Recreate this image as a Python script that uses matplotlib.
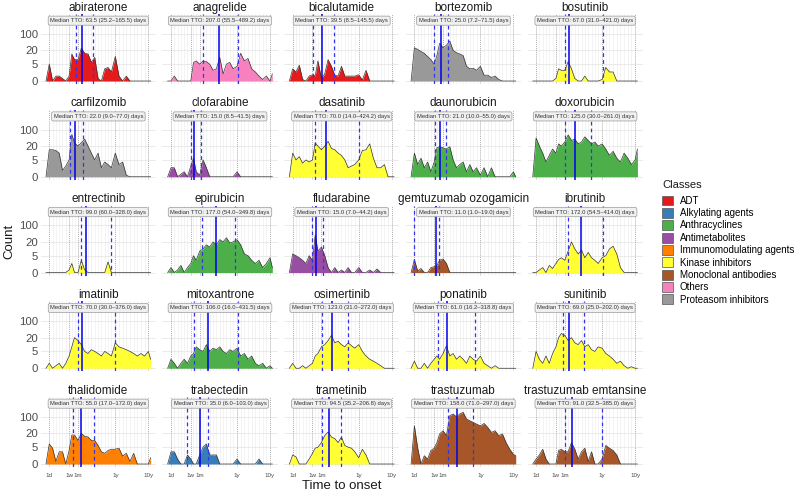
import numpy as np
import matplotlib
matplotlib.use('Agg')
from matplotlib import pyplot as plt
from matplotlib.patches import Patch

plt.rcParams['font.family'] = ['Liberation Sans', 'DejaVu Sans']

# time-to-onset bins (days): daily, weekly, monthly, yearly
tto_days = [0, 1, 2, 3, 4, 5, 6, 7, 14, 21, 30, 60, 90, 120, 150, 180, 210, 240,
            270, 300, 330, 365, 730, 1095, 1460, 1825, 2190, 2555, 2920, 3285, 3650, 3880]

tick_days = [1, 7, 30, 365, 3650]
tick_labels = ['1d', '1w', '1m', '1y', '10y']
minor_days = [2, 3, 4, 5, 6, 14, 21, 60, 90, 120, 150, 180, 210, 240, 270, 300, 330,
              730, 1095, 1460, 1825, 2190, 2555, 2920, 3285]

drugs = ['abiraterone', 'anagrelide', 'bicalutamide', 'bortezomib', 'bosutinib',
         'carfilzomib', 'clofarabine', 'dasatinib', 'daunorubicin', 'doxorubicin',
         'entrectinib', 'epirubicin', 'fludarabine', 'gemtuzumab ozogamicin', 'ibrutinib',
         'imatinib', 'mitoxantrone', 'osimertinib', 'ponatinib', 'sunitinib',
         'thalidomide', 'trabectedin', 'trametinib', 'trastuzumab', 'trastuzumab emtansine']

drug_class = ['ADT', 'Others', 'ADT', 'Proteasom inhibitors', 'Kinase inhibitors',
              'Proteasom inhibitors', 'Antimetabolites', 'Kinase inhibitors', 'Anthracyclines', 'Anthracyclines',
              'Kinase inhibitors', 'Anthracyclines', 'Antimetabolites', 'Monoclonal antibodies', 'Kinase inhibitors',
              'Kinase inhibitors', 'Anthracyclines', 'Kinase inhibitors', 'Kinase inhibitors', 'Kinase inhibitors',
              'Immunomodulating agents', 'Alkylating agents', 'Kinase inhibitors', 'Monoclonal antibodies',
              'Monoclonal antibodies']

median_tto = [63.5, 207.0, 39.5, 25.0, 67.0, 22.0, 15.0, 70.0, 21.0, 125.0,
              99.0, 177.0, 15.0, 11.0, 172.0, 70.0, 106.0, 123.0, 61.0, 69.0,
              55.0, 35.0, 94.5, 158.0, 91.0]
q1_tto = [25.2, 55.5, 8.5, 7.2, 31.0, 9.0, 8.5, 14.0, 10.0, 30.0,
          60.0, 54.0, 7.0, 1.0, 54.5, 30.0, 16.0, 31.0, 16.2, 25.0,
          17.0, 6.0, 35.2, 71.0, 32.5]
q3_tto = [165.5, 489.2, 145.5, 71.5, 421.0, 77.0, 41.5, 424.2, 55.0, 261.0,
          328.0, 349.8, 44.2, 19.0, 414.0, 376.0, 431.5, 272.0, 318.8, 202.0,
          172.0, 103.0, 206.8, 297.0, 385.0]

class_names = ['ADT', 'Alkylating agents', 'Anthracyclines', 'Antimetabolites',
               'Immunomodulating agents', 'Kinase inhibitors', 'Monoclonal antibodies',
               'Others', 'Proteasom inhibitors']
class_colors = ['#E41A1C', '#377EB8', '#4DAF4A', '#984EA3', '#FF7F00',
                '#FFFF33', '#A65628', '#F781BF', '#999999']

# counts per bin, one list per drug
n_abiraterone = [0, 5, 0, 1, 1, 0.5, 0, 1, 14, 8, 8, 25, 15, 14, 6, 10, 0.5, 0, 3, 3.5, 2,
                 11, 1, 0, 1, 0, 0, 0, 0, 0, 0, 0]
n_anagrelide = [0, 0, 1, 0, 0, 0, 0, 0, 6, 7, 5, 7, 6.5, 5, 2.5, 3, 10, 1.5, 5, 6, 3,
                4, 15, 7, 9, 3, 2, 1, 0.3, 1, 0, 1.5]
n_bicalutamide = [0, 3, 2, 4.5, 0.3, 0, 1, 1.3, 1, 7, 0.5, 1.5, 8, 4, 1.2, 1, 4, 1, 1, 1, 1,
                  1.3, 0.2, 2.5, 0, 0, 0, 0, 0, 0, 0, 0]
n_bortezomib = [0, 26, 22, 18, 15, 11, 8, 5, 12, 40, 26, 33, 50, 20, 16, 14, 12, 4, 3, 3.2, 2.5,
                4, 1.2, 1.2, 0.7, 1, 0.3, 0, 0, 0, 0, 0]
n_bosutinib = [0, 0, 0, 0, 0, 0, 0, 0.5, 3, 2.5, 2.5, 6.5, 3, 0.5, 0, 0, 1, 0, 0, 0, 0,
               0.3, 3.5, 2, 2, 0, 0, 0, 0, 0, 0, 0]
n_carfilzomib = [0, 14, 14, 13, 10, 1.3, 2.5, 5, 63, 28, 20, 28, 40, 20, 10, 5, 10, 2, 4, 3, 2,
                 10, 3, 4, 0.3, 0, 0, 0, 0, 0, 0, 0]
n_clofarabine = [0, 2, 2, 0, 0.5, 1, 0, 2.5, 6, 1, 0.3, 5, 2, 0, 0, 0, 0, 0, 0, 0, 0,
                 1, 0, 0, 0, 0, 0, 0, 0, 0, 0, 0]
n_dasatinib = [0, 10, 5, 7, 3.5, 5, 4, 5, 28, 20, 14, 20, 32, 16, 14, 10, 8, 5, 2, 2.5, 3,
               5, 13, 14, 25, 6, 2, 2, 3, 0, 0, 0]
n_daunorubicin = [0, 10, 3, 6, 2, 4, 1, 4, 17, 19, 17, 15, 19, 5, 2, 3, 4, 1, 3, 1, 2,
                  0.3, 2, 0, 2, 0, 0, 0, 0, 0, 1, 0]
n_doxorubicin = [0, 45, 20, 10, 4, 8, 15, 10, 25, 20, 30, 60, 35, 40, 25, 30, 50, 35, 25, 30, 20,
                 25, 15, 8, 12, 6, 4, 10, 6, 3, 5, 15]
n_entrectinib = [0, 0, 0, 0, 0, 0, 0, 0.5, 2, 0, 0, 3, 0.5, 0, 0, 0, 0, 0, 0, 2.5, 0,
                 0, 0, 0, 0, 0, 0, 0, 0, 0, 0, 0]
n_epirubicin = [0, 1, 0, 0.5, 1.5, 0, 1, 2, 5, 3, 8, 10, 15, 12, 20, 15, 25, 20, 30, 18, 20,
                25, 15, 6, 5, 3, 2, 3, 1, 2, 4, 1]
n_fludarabine = [0, 6, 5, 4, 3, 2, 5, 3, 40, 8, 12, 5, 1, 0, 1, 0, 0.5, 0, 1, 0, 0,
                 1, 0, 0, 0.5, 0, 0.7, 0, 0, 0, 0, 0]
n_gemtuzumab = [0, 3.2, 0.3, 0.8, 0, 0, 1, 1.2, 1.5, 3, 3.5, 2, 0, 0, 0, 0, 0, 0, 0, 0, 0,
                0, 0, 0, 0, 0, 0, 0, 0, 0, 0, 0]
n_ibrutinib = [0, 0, 0.5, 1, 0, 1.5, 0.8, 2, 3.3, 4, 3, 8, 20, 10, 6, 9, 4, 7, 4, 3, 2,
               4, 5, 10, 13, 6, 1, 0, 0, 0, 0, 0]
n_imatinib = [0, 1, 0, 0.5, 1, 0, 1, 3, 8, 20, 15, 10, 5, 4, 6, 5, 4, 3, 5, 4, 3,
              12, 8, 7, 6, 5, 4, 3, 4, 3, 5, 2]
n_mitoxantrone = [0, 2, 1, 0, 1, 2, 1, 3, 4, 8, 6, 5, 10, 5, 7, 6, 8, 5, 4, 6, 5,
                  7, 3, 4, 2, 3, 1, 0.5, 1, 0, 0.5, 0]
n_osimertinib = [0, 1, 0, 0, 0.5, 0, 0.5, 1, 3, 4, 8, 10, 15, 25, 12, 14, 10, 8, 12, 9, 7,
                 10, 5, 3, 2, 1.5, 1, 0.5, 0, 0, 0, 0]
n_ponatinib = [0, 1.5, 0, 0, 1, 0, 1, 2, 3, 2, 4, 9, 3, 4, 2, 3, 2, 1, 3, 2, 1.5,
               3, 1, 0.5, 0, 0.5, 0, 0, 0, 0, 0, 0]
n_sunitinib = [0, 5, 2, 1, 3, 1, 4, 8, 20, 30, 25, 15, 20, 12, 10, 15, 8, 10, 6, 5, 8,
               7, 4, 3, 2, 1, 1.5, 0.5, 0, 0.3, 0, 0]
n_thalidomide = [0, 7, 4.5, 0.5, 3, 3, 0, 3.5, 17, 17, 10, 20, 15, 14, 10, 10, 6, 3, 2.5, 3.5, 4,
                 4, 4.5, 1.7, 2.5, 0.5, 2.5, 0, 0, 0, 0, 1.3]
n_trabectedin = [0, 3, 3, 1, 0, 0, 2, 1, 0, 0, 2, 5, 7, 2, 2, 2, 0, 0, 0, 0, 0,
                 1, 0, 0, 0, 0, 0, 1, 0, 0, 0, 0]
n_trametinib = [0, 2, 1.5, 0, 0, 0, 1, 2.5, 4.5, 5, 8, 16, 23, 14, 12, 8, 14, 6, 5, 4.5, 3,
                1.3, 4, 2, 0, 0, 0, 0, 0, 0, 0, 0]
n_trastuzumab = [0, 42, 4.5, 0, 1.8, 1, 3.5, 4.5, 8, 19, 26, 16, 114, 134, 102, 134, 158, 82, 69, 59, 50,
                 42, 53, 36, 22, 26, 16, 19, 8, 4, 2.2, 1.8]
n_trastuzumab_emtansine = [0, 1, 2, 4, 1, 0, 0, 0, 3.5, 4, 3, 3, 8, 4, 1, 3, 4.5, 0.5, 3, 0, 0,
                           1, 6, 4.5, 3.5, 2, 0, 0, 0, 0, 0, 0]

counts = [n_abiraterone, n_anagrelide, n_bicalutamide, n_bortezomib, n_bosutinib,
          n_carfilzomib, n_clofarabine, n_dasatinib, n_daunorubicin, n_doxorubicin,
          n_entrectinib, n_epirubicin, n_fludarabine, n_gemtuzumab, n_ibrutinib,
          n_imatinib, n_mitoxantrone, n_osimertinib, n_ponatinib, n_sunitinib,
          n_thalidomide, n_trabectedin, n_trametinib, n_trastuzumab, n_trastuzumab_emtansine]

# x axis: piecewise linear in days (daily / weekly / monthly / yearly bins)
KD = np.array([1, 7, 30, 365, 3650], float)
KU = np.array([0, 6, 8.7, 20, 30], float)


def fwd_x(d):
    d = np.asarray(d, float)
    u = np.interp(d, KD, KU)
    u = np.where(d < 1, d - 1, u)
    u = np.where(d > 3650, 30 + (d - 3650) * 10 / 3285, u)
    return u


def inv_x(u):
    u = np.asarray(u, float)
    d = np.interp(u, KU, KD)
    d = np.where(u < 0, u + 1, d)
    d = np.where(u > 30, 3650 + (u - 30) * 3285 / 10, d)
    return d


# y axis: pseudo-log
def fwd_y(y):
    return np.arcsinh(np.asarray(y, float) / 2) / np.log(10)


def inv_y(u):
    return 2 * np.sinh(np.asarray(u, float) * np.log(10))


fig = plt.figure(figsize=(8, 4.94), dpi=100)
W, H = 800, 494
PW, PH = 115.2, 70.2

for i, drug in enumerate(drugs):
    r, c = divmod(i, 5)
    left = 40.7 + 121.7 * c
    top = 14 + 95.75 * r
    ax = fig.add_axes([left / W, 1 - (top + PH) / H, PW / W, PH / H])
    ax.set_xscale('function', functions=(fwd_x, inv_x))
    ax.set_yscale('function', functions=(fwd_y, inv_y))
    ax.set_xlim(inv_x(-2.6), inv_x(32.3))
    ax.set_ylim(inv_y(-0.136), inv_y(2.85))
    for s in ax.spines.values():
        s.set_visible(False)

    # grid
    for d in minor_days:
        ax.axvline(d, color='#EEEEEE', lw=0.5, zorder=0)
    for yv in [0, 5, 20, 100]:
        ax.axhline(yv, color='#E6E6E6', lw=0.6, zorder=0)
    for d in tick_days:
        ax.axvline(d, color='#8C8C8C', lw=0.6, ls=(0, (1, 1.5)), zorder=0.5)

    col = class_colors[class_names.index(drug_class[i])]
    ax.fill_between(tto_days, 0, counts[i], color=col, lw=0, zorder=1)
    ax.plot(tto_days, counts[i], color='#333333', lw=0.5, zorder=2)

    ax.axvline(median_tto[i], color='#0000EE', lw=1.1, zorder=3)
    ax.axvline(q1_tto[i], color='#3333EE', lw=0.9, ls=(0, (3, 2.5)), zorder=3)
    ax.axvline(q3_tto[i], color='#3333EE', lw=0.9, ls=(0, (3, 2.5)), zorder=3)

    txt = f'Median TTO: {median_tto[i]:.1f} ({q1_tto[i]:.1f}\u2013{q3_tto[i]:.1f}) days'
    ax.text(0.5, 0.905, txt, transform=ax.transAxes, ha='center', va='center',
            fontsize=4.2, color='#333333', zorder=5,
            bbox=dict(boxstyle='round,pad=0.35,rounding_size=0.3', fc='#F0F0F0',
                      ec='#9A9A9A', lw=0.5))

    ax.set_title(drug, fontsize=8.5, pad=2.5, color='#1A1A1A')

    ax.set_xticks(tick_days)
    ax.set_xticks([], minor=True)
    ax.set_yticks([0, 5, 20, 100])
    ax.set_yticks([], minor=True)
    ax.tick_params(length=0)
    if r == 4:
        ax.set_xticklabels(tick_labels)
        ax.tick_params(axis='x', labelsize=4.5, pad=4, labelcolor='#4D4D4D')
    else:
        ax.set_xticklabels([])
    if c == 0:
        ax.set_yticklabels(['0', '5', '20', '100'])
        ax.tick_params(axis='y', labelsize=8.2, pad=2, labelcolor='#4D4D4D')
    else:
        ax.set_yticklabels([])

fig.text(341.7 / W, 1 - 486 / H, 'Time to onset', ha='center', va='center', fontsize=9.5, color='#1A1A1A')
fig.text(9 / W, 1 - 241 / H, 'Count', ha='center', va='center', rotation=90, fontsize=9.5, color='#1A1A1A')

fig.text(662 / W, 1 - 185 / H, 'Classes', ha='left', va='center', fontsize=8, color='#1A1A1A')
handles = [Patch(facecolor=cc, edgecolor='#555555', lw=0.5) for cc in class_colors]
fig.legend(handles, class_names, loc='upper left', bbox_to_anchor=(662 / W, 1 - 195.5 / H),
           fontsize=7, frameon=False,
           handlelength=1.1, handleheight=1.2, handletextpad=0.75, labelspacing=0.215,
           borderpad=0, borderaxespad=0)

fig.savefig('out.png', dpi=100)
